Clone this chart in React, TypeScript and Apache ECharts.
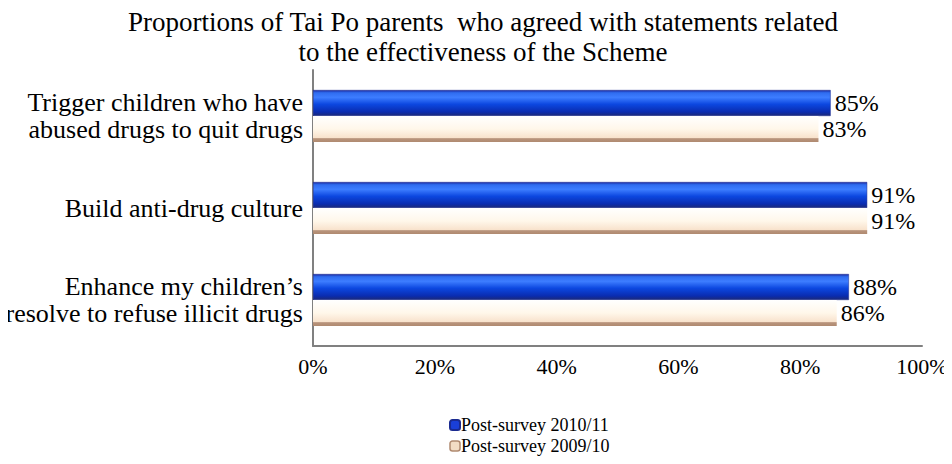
import React, { useEffect, useRef } from "react";
import * as echarts from "echarts";

const categories = [
  "Trigger children who have\nabused drugs to quit drugs",
  "Build anti-drug culture",
  "Enhance my children’s\nresolve to refuse illicit drugs",
];
const seriesNames = ["Post-survey 2010/11", "Post-survey 2009/10"];
const post2010 = [85, 91, 88];
const post2009 = [83, 91, 86];
const xTicks = [0, 20, 40, 60, 80, 100];

const FONT = "Liberation Serif";

export default function App() {
  const ref = useRef<HTMLDivElement>(null);
  useEffect(() => {
    if (!ref.current) return;
    const chart = echarts.init(ref.current, null, { renderer: "svg" });
    const blue = new echarts.graphic.LinearGradient(0, 0, 0, 1, [
      { offset: 0, color: "#1b2aa0" },
      { offset: 0.1, color: "#2f6cf0" },
      { offset: 0.28, color: "#3d7dff" },
      { offset: 0.55, color: "#0c47e0" },
      { offset: 0.85, color: "#0a2cb0" },
      { offset: 1, color: "#1c2a78" },
    ]);
    const cream = new echarts.graphic.LinearGradient(0, 0, 0, 1, [
      { offset: 0, color: "#ffffff" },
      { offset: 0.5, color: "#fff7ea" },
      { offset: 0.84, color: "#f8e2cc" },
      { offset: 0.87, color: "#b8947c" },
      { offset: 1, color: "#b08a70" },
    ]);
    const labelStyle = {
      show: true,
      position: "right" as const,
      formatter: "{c}%",
      fontFamily: FONT,
      fontSize: 24,
      color: "#000",
      distance: 4,
    };
    chart.setOption({
      animation: false,
      title: {
        text: "Proportions of Tai Po parents  who agreed with statements related\nto the effectiveness of the Scheme",
        left: 478,
        textAlign: "center",
        top: 2,
        textStyle: {
          fontFamily: FONT,
          fontSize: 27,
          fontWeight: "normal",
          color: "#000",
          lineHeight: 30,
        },
      },
      legend: {
        orient: "vertical",
        left: 449,
        top: 416,
        padding: 0,
        itemWidth: 10,
        itemHeight: 10,
        itemGap: 3,
        data: [
          { name: seriesNames[0], itemStyle: { color: "#1a3fd8" } },
          { name: seriesNames[1], itemStyle: { color: "#f2dcc4", borderColor: "#b08a70", borderWidth: 1.5 } },
        ],
        textStyle: { fontFamily: FONT, fontSize: 18, color: "#000", padding: [0, 0, 0, -4] },
      },
      grid: { left: 313, right: 30, top: 70, bottom: 118, containLabel: false },
      xAxis: {
        type: "value",
        min: 0,
        max: 100,
        interval: 20,
        axisLine: { show: true, lineStyle: { color: "#808080", width: 2 } },
        axisTick: { show: false },
        splitLine: { show: false },
        axisLabel: {
          formatter: (v: number) => (xTicks.includes(v) ? v + "%" : ""),
          fontFamily: FONT,
          fontSize: 22,
          color: "#000",
          margin: 9,
        },
      },
      yAxis: {
        type: "category",
        data: categories,
        inverse: true,
        axisLine: { show: true, lineStyle: { color: "#808080", width: 2 } },
        axisTick: { show: false },
        axisLabel: {
          fontFamily: FONT,
          fontSize: 26,
          color: "#000",
          lineHeight: 27,
          margin: 10,
          align: "right",
        },
      },
      series: [
        {
          name: seriesNames[0],
          type: "bar",
          data: post2010,
          barWidth: 26,
          barGap: "0%",
          itemStyle: { color: blue, borderColor: "#1a2a90", borderWidth: 0.5 },
          label: labelStyle,
        },
        {
          name: seriesNames[1],
          type: "bar",
          data: post2009,
          barWidth: 26,
          barGap: "0%",
          itemStyle: { color: cream },
          label: labelStyle,
        },
      ],
    });
    return () => chart.dispose();
  }, []);
  return <div ref={ref} style={{ width: 952, height: 464, margin: -8 }} />;
}
